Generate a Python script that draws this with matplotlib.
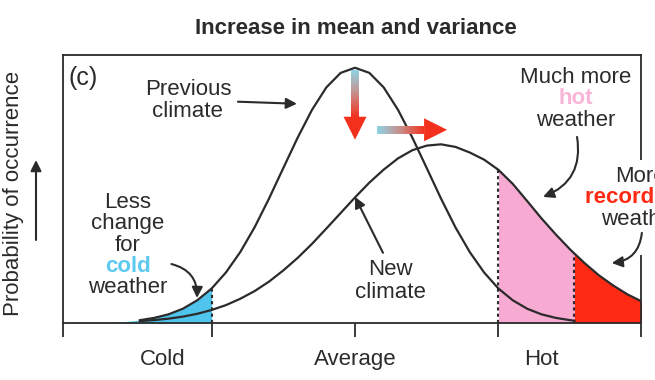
import numpy as np
import matplotlib.pyplot as plt
from matplotlib.collections import LineCollection
from matplotlib.colors import LinearSegmentedColormap
from matplotlib.patches import Polygon, Rectangle

plt.rcParams['font.family'] = ['Liberation Sans', 'DejaVu Sans']

# temperature axis, Average = 0, one unit per tick
temp = [-2.0, -1.9, -1.8, -1.7, -1.6, -1.5, -1.4, -1.3, -1.2, -1.1, -1.0,
        -0.9, -0.8, -0.7, -0.6, -0.5, -0.4, -0.3, -0.2, -0.1, 0.0,
        0.1, 0.2, 0.3, 0.4, 0.5, 0.6, 0.7, 0.8, 0.9, 1.0,
        1.1, 1.2, 1.3, 1.4, 1.5, 1.53, 1.6, 1.7, 1.8, 1.9, 2.0]
previous = [0.0003, 0.0007, 0.0015, 0.003, 0.006, 0.011, 0.020, 0.034, 0.056, 0.089, 0.135,
            0.198, 0.278, 0.375, 0.487, 0.607, 0.726, 0.835, 0.923, 0.980, 1.0,
            0.980, 0.923, 0.835, 0.726, 0.607, 0.487, 0.375, 0.278, 0.198, 0.135,
            0.089, 0.056, 0.034, 0.020, 0.011, 0.009, 0.006, 0.003, 0.0015, 0.0007, 0.0003]
new = [0.0006, 0.0011, 0.0018, 0.003, 0.0048, 0.0075, 0.0114, 0.017, 0.025, 0.036, 0.051,
       0.070, 0.095, 0.125, 0.162, 0.206, 0.255, 0.310, 0.370, 0.431, 0.492,
       0.550, 0.601, 0.645, 0.677, 0.695, 0.700, 0.690, 0.668, 0.640, 0.600,
       0.545, 0.478, 0.410, 0.347, 0.288, 0.272, 0.235, 0.187, 0.147, 0.112, 0.084]

x_min, x_max = -2.036, 1.994
tick_pos = [x_min, -1.0, 0.0, 1.0, x_max]
label_pos = [-1.34, 0.0, 1.30]
tick_labels = ['Cold', 'Average', 'Hot']
cold_edge, hot_edge, record_edge = -1.0, 1.0, 1.53

ink = '#2b2b2b'
cold_c = '#4fc4ec'
hot_c = '#f7aad2'
record_c = '#ff2a14'

x = np.array(temp)
prev = np.array(previous)
nw = np.array(new)

fig = plt.figure(figsize=(6.55, 3.8), dpi=100)
ax = fig.add_axes([63 / 655, 57 / 380, 578 / 655, 268 / 380])
ax.set_xlim(x_min, x_max)
ax.set_ylim(0, 1.05)

# shaded tails
m = x <= cold_edge
ax.fill_between(x[m], 0, prev[m], color=cold_c, lw=0, zorder=1)
m = (x >= hot_edge) & (x <= record_edge)
ax.fill_between(x[m], 0, nw[m], color=hot_c, lw=0, zorder=1)
m = x >= record_edge
ax.fill_between(x[m], 0, nw[m], color=record_c, lw=0, zorder=1)

ax.vlines([cold_edge], 0, prev[x == cold_edge], colors=ink, linestyles=(0, (1.5, 1.5)), lw=1.5, zorder=2)
ax.vlines([hot_edge, record_edge], 0, [nw[x == hot_edge][0], nw[x == record_edge][0]],
          colors=ink, linestyles=(0, (1.5, 1.5)), lw=1.5, zorder=2)

m = (x >= -1.5) & (x <= record_edge)
ax.plot(x[m], prev[m], color=ink, lw=1.6, zorder=3)
m = x >= -1.5
ax.plot(x[m], nw[m], color=ink, lw=1.6, zorder=3)

# axes frame and ticks
for s in ax.spines.values():
    s.set_color(ink)
    s.set_linewidth(1.3)
ax.set_yticks([])
ax.xaxis.remove_overlapping_locs = False
ax.set_xticks(tick_pos)
ax.set_xticklabels([])
ax.tick_params(axis='x', which='major', direction='out', length=10, width=1.3, color=ink)
ax.set_xticks(label_pos, minor=True)
ax.set_xticklabels(tick_labels, minor=True, fontsize=16, color=ink)
ax.tick_params(axis='x', which='minor', length=0, pad=19)

# white gap in the right frame behind the clipped label
ax.add_patch(Rectangle((0.985, 0.254), 0.06, 0.354, transform=ax.transAxes,
                       facecolor='white', edgecolor='none', clip_on=False, zorder=4))

fig.text(356 / 655, 1 - 29 / 380, 'Increase in mean and variance', ha='center', va='center',
         fontsize=16, fontweight='bold', color=ink)
fig.text(14 / 655, 1 - 193 / 380, 'Probability of occurrence', rotation=90,
         ha='center', va='center', fontsize=16, color=ink)
ax.annotate('', xy=(36 / 655, 1 - 160 / 380), xytext=(36 / 655, 1 - 240 / 380),
            xycoords='figure fraction', textcoords='figure fraction',
            arrowprops=dict(arrowstyle='-|>', color=ink, lw=1.5, mutation_scale=16,
                            shrinkA=0, shrinkB=0))


def stacked(xc, y_top, lines, dy=0.083):
    for i, (s, color, weight) in enumerate(lines):
        ax.text(xc, y_top - i * dy, s, ha='center', va='center', fontsize=16,
                color=color, fontweight=weight, zorder=6)


def arrow(start, end, rad=0.0):
    ax.annotate('', xy=end, xytext=start,
                arrowprops=dict(arrowstyle='-|>', color=ink, lw=1.5, mutation_scale=16,
                                shrinkA=0, shrinkB=0,
                                connectionstyle='arc3,rad=%s' % rad), zorder=6)


ax.text(-2.0, 0.961, '(c)', ha='left', va='center', fontsize=18, color=ink)
stacked(-1.165, 0.914, [('Previous', ink, 'normal'), ('climate', ink, 'normal')], dy=0.087)
arrow((-0.816, 0.867), (-0.405, 0.859))

stacked(-1.583, 0.471, [('Less', ink, 'normal'), ('change', ink, 'normal'), ('for', ink, 'normal'),
                        ('cold', '#5cc9ee', 'bold'), ('weather', ink, 'normal')])
arrow((-1.28, 0.231), (-1.102, 0.098), rad=-0.4)

stacked(0.25, 0.208, [('New', ink, 'normal'), ('climate', ink, 'normal')], dy=0.09)
arrow((0.195, 0.275), (0.0, 0.494))

stacked(1.541, 0.961, [('Much more', ink, 'normal'), ('hot', '#f9b5d7', 'bold'),
                       ('weather', ink, 'normal')])
arrow((1.548, 0.729), (1.311, 0.494), rad=-0.4)

stacked(1.99, 0.573, [('More', ink, 'normal'), ('record hot', record_c, 'bold'),
                      ('weather', ink, 'normal')])
arrow((2.0, 0.353), (1.79, 0.235), rad=-0.4)

# blue-to-red shift arrows
grad = LinearSegmentedColormap.from_list('shift', ['#8fd3e4', '#c98b86', '#f2301c'])


def gradient_arrow(start, tip, head_len=23, head_w=23, shaft_w=8):
    T = ax.transData
    p0 = T.transform(start)
    p1 = T.transform(tip)
    u = (p1 - p0) / np.hypot(*(p1 - p0))
    n = np.array([-u[1], u[0]])
    base = p1 - u * head_len
    t = np.linspace(0, 1, 41)
    pts = T.inverted().transform(p0 + np.outer(t, base - p0))
    segs = np.stack([pts[:-1], pts[1:]], axis=1)
    ax.add_collection(LineCollection(segs, colors=grad(t[:-1]), linewidths=shaft_w * 0.72,
                                     capstyle='butt', zorder=5))
    head = T.inverted().transform([base + n * head_w / 2, base - n * head_w / 2, p1])
    ax.add_patch(Polygon(head, closed=True, facecolor=grad(1.0), edgecolor='none', zorder=5))


gradient_arrow((0.0, 0.992), (0.0, 0.718))
gradient_arrow((0.153, 0.757), (0.642, 0.757))

fig.savefig('out.png', dpi=100)
